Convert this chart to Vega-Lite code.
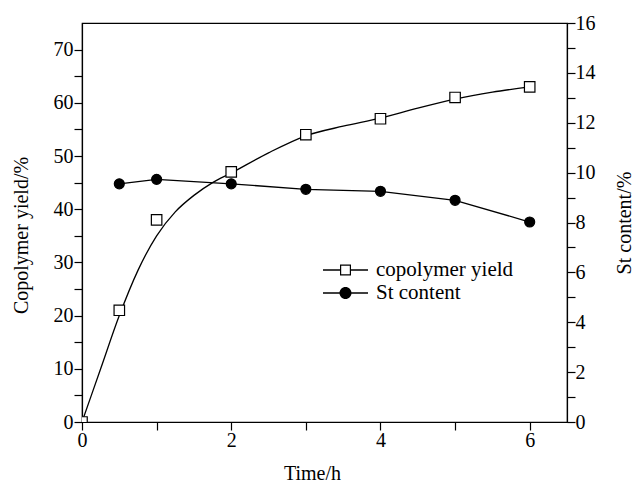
{
  "$schema": "https://vega.github.io/schema/vega-lite/v6.json",
  "width": 485,
  "height": 399,
  "autosize": "none",
  "padding": {"left": 82, "top": 23, "right": 68, "bottom": 60},
  "background": "white",
  "config": {
    "view": {"stroke": "black", "strokeWidth": 1.2},
    "font": "Liberation Serif",
    "axis": {
      "labelFont": "Liberation Serif",
      "titleFont": "Liberation Serif",
      "labelFontSize": 20,
      "titleFontSize": 20,
      "titleFontWeight": "normal",
      "labelColor": "black",
      "titleColor": "black",
      "domainColor": "black",
      "domainWidth": 1.2,
      "tickColor": "black",
      "tickWidth": 1.2,
      "tickSize": 8,
      "labelFlush": false,
      "grid": false
    }
  },
  "datasets": {
    "fit": [
      {"time": 0, "yield": 0},
      {"time": 0.25, "yield": 10},
      {"time": 0.5, "yield": 20},
      {"time": 0.75, "yield": 28.5},
      {"time": 1, "yield": 35},
      {"time": 1.25, "yield": 39.5},
      {"time": 1.5, "yield": 42.6},
      {"time": 1.75, "yield": 45},
      {"time": 2, "yield": 46.8},
      {"time": 2.5, "yield": 50.6},
      {"time": 3, "yield": 53.8},
      {"time": 3.5, "yield": 55.6},
      {"time": 4, "yield": 57.1},
      {"time": 4.5, "yield": 59},
      {"time": 5, "yield": 60.7},
      {"time": 5.5, "yield": 62},
      {"time": 6, "yield": 63}
    ],
    "obs": [
      {"time": 0, "value": 0, "series": "copolymer yield"},
      {"time": 0.5, "value": 21, "series": "copolymer yield"},
      {"time": 1, "value": 38, "series": "copolymer yield"},
      {"time": 2, "value": 47, "series": "copolymer yield"},
      {"time": 3, "value": 54, "series": "copolymer yield"},
      {"time": 4, "value": 57, "series": "copolymer yield"},
      {"time": 5, "value": 61, "series": "copolymer yield"},
      {"time": 6, "value": 63, "series": "copolymer yield"},
      {"time": 0.5, "value": 9.55, "series": "St content"},
      {"time": 1, "value": 9.73, "series": "St content"},
      {"time": 2, "value": 9.55, "series": "St content"},
      {"time": 3, "value": 9.33, "series": "St content"},
      {"time": 4, "value": 9.25, "series": "St content"},
      {"time": 5, "value": 8.89, "series": "St content"},
      {"time": 6, "value": 8.02, "series": "St content"}
    ]
  },
  "encoding": {
    "x": {
      "field": "time",
      "type": "quantitative",
      "scale": {"domain": [0, 6.5], "nice": false, "zero": false},
      "axis": {
        "title": "Time/h",
        "values": [0, 1, 2, 3, 4, 5, 6],
        "labelExpr": "datum.value % 2 === 0 ? datum.label : ''",
        "labelPadding": 0,
        "titlePadding": 13,
        "titleX": 230,
        "encode": {"ticks": {"y2": {"condition": {"test": "datum.value % 2 === 0", "value": -8}, "value": -5}}}
      }
    }
  },
  "layer": [
    {
      "encoding": {
        "y": {
          "type": "quantitative",
          "scale": {"domain": [0, 75], "nice": false},
          "axis": {
            "orient": "left",
            "title": "Copolymer yield/%",
            "values": [0, 5, 10, 15, 20, 25, 30, 35, 40, 45, 50, 55, 60, 65, 70],
            "labelExpr": "datum.value % 10 === 0 ? datum.label : ''",
            "labelPadding": 1,
            "titlePadding": 22,
            "titleY": 212,
            "encode": {"ticks": {"x2": {"condition": {"test": "datum.value % 10 === 0", "value": 8}, "value": 5}}}
          }
        }
      },
      "layer": [
        {
          "data": {"name": "fit"},
          "mark": {"type": "line", "interpolate": "monotone", "color": "black", "strokeWidth": 1.3, "clip": true},
          "encoding": {"y": {"field": "yield", "type": "quantitative"}}
        },
        {
          "data": {"name": "obs"},
          "transform": [{"filter": "datum.series === 'copolymer yield'"}],
          "mark": {"type": "point", "shape": "square", "filled": true, "fill": "white", "stroke": "black", "strokeWidth": 1.2, "opacity": 1, "size": 110, "clip": true},
          "encoding": {"y": {"field": "value", "type": "quantitative"}}
        },
        {
          "data": {"name": "obs"},
          "mark": {"type": "point", "filled": true, "color": "black", "opacity": 0, "size": 10},
          "encoding": {
            "y": {"field": "value", "type": "quantitative"},
            "shape": {
              "field": "series", "type": "nominal",
              "scale": {
                "domain": ["copolymer yield", "St content"],
                "range": [
                  "M-1,-0.029H-0.244V0.029H-1Z M0.244,-0.029H1V0.029H0.244Z M-0.244,-0.244H0.244V0.244H-0.244Z M-0.191,-0.191V0.191H0.191V-0.191Z",
                  "M-1,-0.029H1V0.029H-1Z M0.267,0A0.267,0.267 0 1,1 -0.267,0A0.267,0.267 0 1,1 0.267,0Z"
                ]
              },
              "legend": {
                "orient": "none", "legendX": 241, "legendY": 236, "title": null, "padding": 0,
                "symbolSize": 2025, "symbolOpacity": 1, "symbolFillColor": "black", "symbolStrokeWidth": 0,
                "labelFont": "Liberation Serif", "labelFontSize": 21, "labelColor": "black",
                "labelOffset": 8, "rowPadding": 1, "clipHeight": 22
              }
            }
          }
        }
      ]
    },
    {
      "data": {"name": "obs"},
      "transform": [{"filter": "datum.series === 'St content'"}],
      "encoding": {
        "y": {
          "field": "value",
          "type": "quantitative",
          "scale": {"domain": [0, 16], "nice": false},
          "axis": {
            "orient": "right",
            "title": "St content/%",
            "titleAngle": 270,
            "titleBaseline": "top",
            "values": [0, 1, 2, 3, 4, 5, 6, 7, 8, 9, 10, 11, 12, 13, 14, 15, 16],
            "labelExpr": "datum.value % 2 === 0 ? datum.label : ''",
            "labelPadding": 0,
            "titlePadding": 19,
            "encode": {"ticks": {"x2": {"condition": {"test": "datum.value % 2 === 0", "value": -8}, "value": -5}}}
          }
        }
      },
      "layer": [
        {
          "mark": {"type": "line", "color": "black", "strokeWidth": 1.3}
        },
        {
          "mark": {"type": "point", "shape": "circle", "filled": true, "fill": "black", "stroke": "black", "strokeWidth": 1.2, "opacity": 1, "size": 100}
        }
      ]
    }
  ],
  "resolve": {"scale": {"y": "independent"}}
}
